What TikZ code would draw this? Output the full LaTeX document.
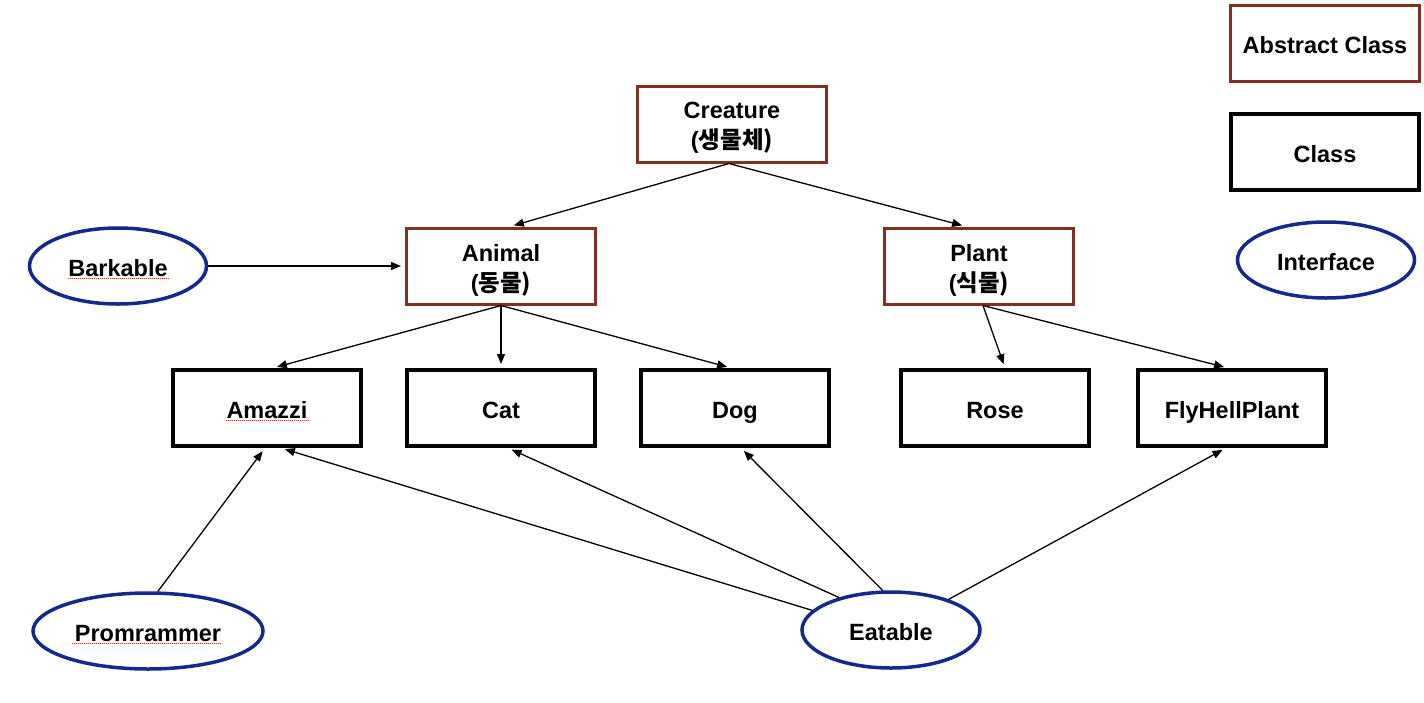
\documentclass[tikz,border=0pt]{standalone}
\usepackage{fontspec}
\setmainfont{Liberation Sans}
\newfontfamily\kr{Noto Sans CJK KR}
\usetikzlibrary{shapes.geometric,arrows.meta,calc}
\definecolor{absbrown}{RGB}{128,48,34}
\definecolor{ifblue}{RGB}{22,40,140}
\tikzset{
  lbl/.style={font=\fontsize{23.5}{28}\selectfont\bfseries, align=center, text=black},
  oneline/.style={text height=21pt, text depth=0pt},
  absbox/.style={lbl, draw=absbrown, line width=3pt, minimum width=189pt, minimum height=76pt, inner sep=0pt},
  clsbox/.style={lbl, oneline, draw=black, line width=4pt, minimum width=188pt, minimum height=76pt, inner sep=0pt},
  iface/.style={lbl, oneline, ellipse, draw=ifblue, line width=3.5pt, minimum height=76pt, inner sep=0pt},
  arr/.style={-{Triangle[length=10pt,width=8pt]}, line width=1.3pt, shorten >=4pt},
  squig/.style={draw=red!85, line width=1pt, dash pattern=on 1pt off 1pt}
}
\begin{document}
\begin{tikzpicture}[x=1pt,y=-1pt]
\useasboundingbox (0,0) rectangle (1424,702);
% legend
\node[absbox, oneline] (legabs) at (1325,43) {Abstract Class};
\node[clsbox] (legcls) at (1325,152) {Class};
\node[iface, minimum width=177pt] (legif) at (1326,260) {Interface};
% hierarchy
\node[absbox] (creature) at (732,124) {};
\node[lbl] (creaturet) at (732,128) {Creature\\[2pt](\kr 생물체)};
\node[absbox] (animal) at (501,266) {};
\node[lbl] (animalt) at (501,270) {Animal\\[2pt](\kr 동물)};
\node[absbox] (plant) at (979,266) {};
\node[lbl] (plantt) at (979,270) {Plant\\[2pt](\kr 식물)};
\node[clsbox] (amazzi) at (267,408) {Amazzi};
\node[clsbox] (cat) at (501,408) {Cat};
\node[clsbox] (dog) at (735,408) {Dog};
\node[clsbox] (rose) at (995,408) {Rose};
\node[clsbox] (flyhell) at (1232,408) {FlyHellPlant};
% interfaces
\node[iface, minimum width=177pt] (barkable) at (118,266) {Barkable};
\node[iface, minimum width=230pt] (promrammer) at (148,631) {Promrammer};
\node[iface, minimum width=178pt] (eatable) at (891,630) {Eatable};
% spell-check underlines
\draw[squig] ($(amazzi)+(-41,12.5)$) -- ($(amazzi)+(42,12.5)$);
\draw[squig] ($(promrammer)+(-76,12.5)$) -- ($(promrammer)+(74,12.5)$);
\draw[squig] ($(barkable)+(-50,12.5)$) -- ($(barkable)+(52,12.5)$);
% connectors
\draw[arr] ([xshift=-3pt]creature.south) -- ([xshift=9pt]animal.north);
\draw[arr] ([xshift=-3pt]creature.south) -- ([xshift=-13pt]plant.north);
\draw[arr] (barkable.east) -- (animal.west);
\draw[arr] (animal.south) -- ([xshift=6pt]amazzi.north);
\draw[arr] (animal.south) -- (cat.north);
\draw[arr] (animal.south) -- ([xshift=-4pt]dog.north);
\draw[arr] ([xshift=4pt]plant.south) -- ([xshift=10pt]rose.north);
\draw[arr] ([xshift=4pt]plant.south) -- ([xshift=-4pt]flyhell.north);
\draw[arr] (promrammer.76) -- ([xshift=-2pt]amazzi.south);
\draw[arr] (eatable.166) -- ([xshift=14pt]amazzi.south);
\draw[arr] (eatable.148) -- ([xshift=7pt]cat.south);
\draw[arr] (eatable.102) -- ([xshift=6pt]dog.south);
\draw[arr] (eatable.28) -- ([xshift=-6pt]flyhell.south);
\end{tikzpicture}
\end{document}
